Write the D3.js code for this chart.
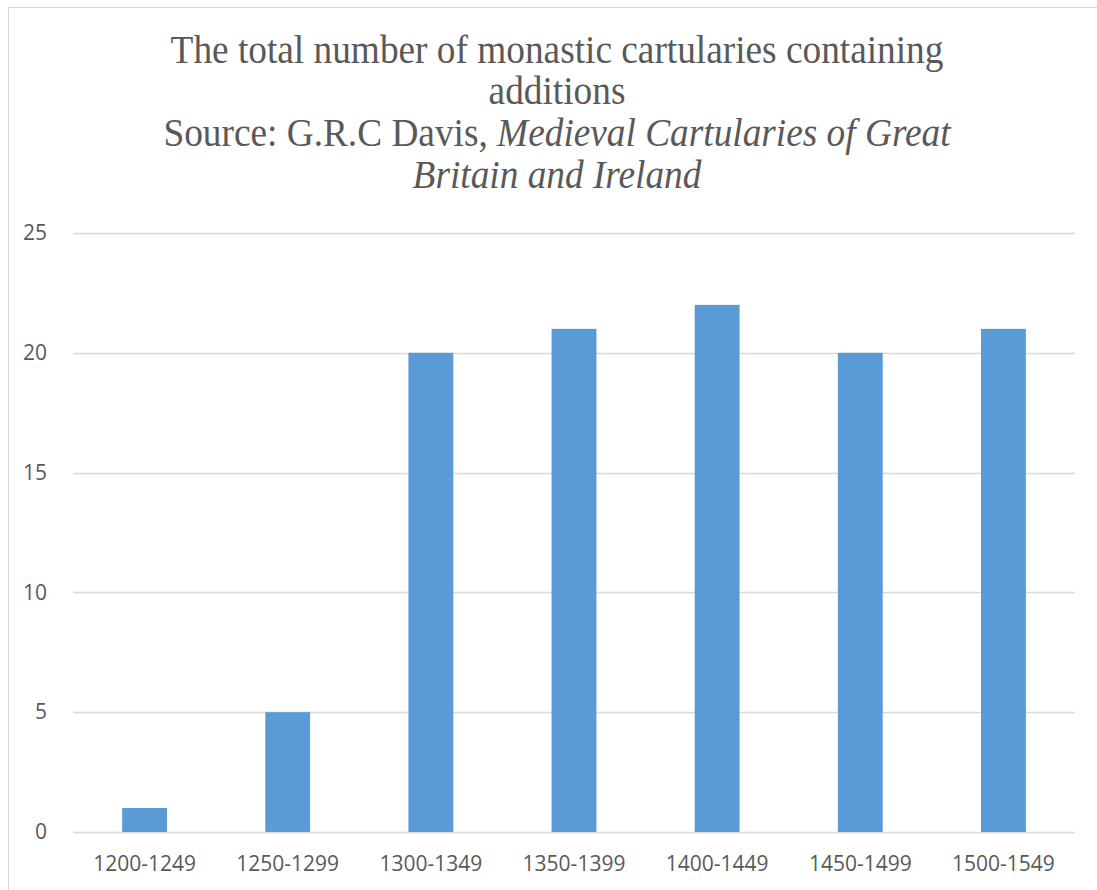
<!DOCTYPE html>
<html>
<head>
<meta charset="utf-8">
<script src="https://cdn.jsdelivr.net/npm/d3@7"></script>
<style>
  html, body { margin: 0; padding: 0; background: #fff; }
  svg { display: block; }
</style>
</head>
<body>
<svg id="chart" width="1097" height="890"></svg>
<script>
// Periods and counts of monastic cartularies containing additions
const periods = ["1200-1249", "1250-1299", "1300-1349", "1350-1399", "1400-1449", "1450-1499", "1500-1549"];
const counts = [1, 5, 20, 21, 22, 20, 21];
const yTicks = [0, 5, 10, 15, 20, 25];

const svg = d3.select("#chart");

// Chart frame
svg.append("rect")
  .attr("x", 8.5).attr("y", 7.5)
  .attr("width", 1100).attr("height", 900)
  .attr("fill", "#fff")
  .attr("stroke", "#d9d9d9").attr("stroke-width", 1);

const plot = { left: 73, right: 1075, top: 233, bottom: 832 };

const x = d3.scaleBand()
  .domain(periods)
  .range([plot.left, plot.right])
  .paddingInner(0.6865)
  .paddingOuter(0.6865 / 2);

const y = d3.scaleLinear()
  .domain([0, 25])
  .range([plot.bottom, plot.top]);

// Horizontal gridlines
svg.append("g")
  .selectAll("line")
  .data(yTicks)
  .join("line")
  .attr("x1", plot.left).attr("x2", plot.right)
  .attr("y1", d => Math.round(y(d)) + 0.5)
  .attr("y2", d => Math.round(y(d)) + 0.5)
  .attr("stroke", "#d9d9d9")
  .attr("stroke-width", 1.3);

// Bars
svg.append("g")
  .selectAll("rect")
  .data(periods.map((p, i) => ({ p, v: counts[i] })))
  .join("rect")
  .attr("x", d => x(d.p))
  .attr("width", x.bandwidth())
  .attr("y", d => y(d.v))
  .attr("height", d => y(0) - y(d.v))
  .attr("fill", "#5b9bd5");

// Y axis labels
const yAxis = d3.axisLeft(y).tickValues(yTicks).tickSize(0).tickPadding(0);
const gy = svg.append("g")
  .attr("transform", `translate(47,0)`)
  .call(yAxis);
gy.select(".domain").remove();
gy.selectAll("text")
  .style("font-family", '"Open Sans", sans-serif')
  .style("font-size", "21px")
  .attr("fill", "#595959");

// X axis labels
const xAxis = d3.axisBottom(x).tickSize(0).tickPadding(0);
const gx = svg.append("g")
  .attr("transform", `translate(0,${plot.bottom})`)
  .call(xAxis);
gx.select(".domain").remove();
gx.selectAll("text")
  .attr("dy", null)
  .attr("y", 39)
  .style("font-family", '"Open Sans", sans-serif')
  .style("font-size", "21px")
  .attr("fill", "#595959");

// Title block
const titleLines = [
  [{ t: "The total number of monastic cartularies containing", i: false }],
  [{ t: "additions", i: false }],
  [{ t: "Source: G.R.C Davis, ", i: false }, { t: "Medieval Cartularies of Great", i: true }],
  [{ t: "Britain and Ireland", i: true }]
];
const baselines = [63, 104.5, 146.5, 188];
const cx = 557;

const title = svg.append("g");
titleLines.forEach((parts, li) => {
  const txt = title.append("text")
    .attr("x", 0)
    .attr("y", baselines[li])
    .attr("text-anchor", "middle")
    .style("font-family", '"Liberation Serif", serif')
    .style("font-size", "40px")
    .attr("fill", "#595959");
  parts.forEach(p => {
    txt.append("tspan")
      .style("font-style", p.i ? "italic" : "normal")
      .text(p.t);
  });
});
// Condense the title horizontally so the first line spans its set width
const firstW = title.select("text").node().getComputedTextLength();
const sx = 773 / firstW;
title.attr("transform", `translate(${cx},0) scale(${sx},1)`);
</script>
</body>
</html>
